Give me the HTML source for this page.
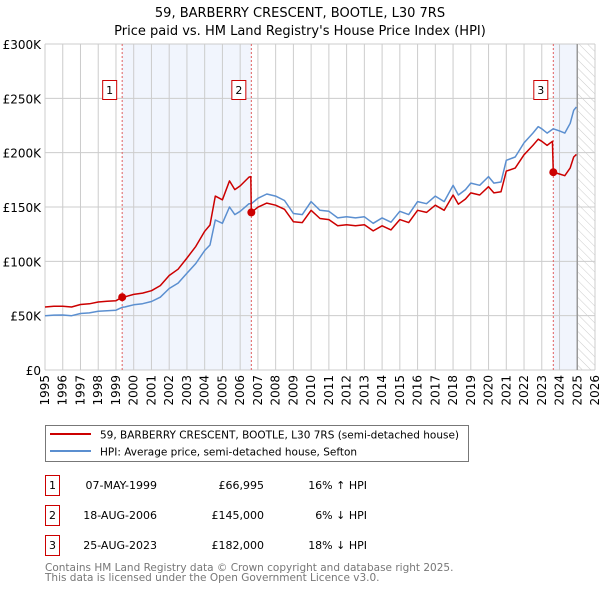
<!DOCTYPE html>
<html><head><meta charset="utf-8">
<style>
body{margin:0;background:#fff;width:600px;height:590px;overflow:hidden;font-family:"DejaVu Sans","Liberation Sans",sans-serif;}
svg text{font-family:"DejaVu Sans","Liberation Sans",sans-serif;}
</style></head>
<body>
<svg id="chart" width="600" height="590" viewBox="0 0 600 590" xmlns="http://www.w3.org/2000/svg">
<defs>
<pattern id="hatch" width="6" height="6" patternUnits="userSpaceOnUse" patternTransform="rotate(-45)">
<line x1="0" y1="0" x2="0" y2="6" stroke="#ccc" stroke-width="1"/>
</pattern>
</defs>
<text x="300" y="17" text-anchor="middle" font-size="13">59, BARBERRY CRESCENT, BOOTLE, L30 7RS</text>
<text x="300" y="35" text-anchor="middle" font-size="13">Price paid vs. HM Land Registry's House Price Index (HPI)</text>
<g id="plot"></g>
<rect x="45.5" y="425.5" width="423" height="36" fill="#fff" stroke="#777"/>
<line x1="50" y1="434" x2="91" y2="434" stroke="#cc0000" stroke-width="2"/>
<text x="100" y="438.5" font-size="10.5">59, BARBERRY CRESCENT, BOOTLE, L30 7RS (semi-detached house)</text>
<line x1="50" y1="451" x2="91" y2="451" stroke="#5b8fd0" stroke-width="2"/>
<text x="100" y="455.5" font-size="10.5">HPI: Average price, semi-detached house, Sefton</text>
<g id="table" font-size="11"></g>
<text x="45" y="571" font-size="10.5" fill="#777">Contains HM Land Registry data © Crown copyright and database right 2025.</text>
<text x="45" y="581" font-size="10.5" fill="#777">This data is licensed under the Open Government Licence v3.0.</text>
</svg>
<script>
const yearTicks=[1995,1996,1997,1998,1999,2000,2001,2002,2003,2004,2005,2006,2007,2008,2009,2010,2011,2012,2013,2014,2015,2016,2017,2018,2019,2020,2021,2022,2023,2024,2025,2026];
const valueTicks=[0,50,100,150,200,250,300];
const valueTickLabels=["£0","£50K","£100K","£150K","£200K","£250K","£300K"];
const hpiTimes=[1995,1995.5,1996,1996.5,1997,1997.5,1998,1998.5,1999,1999.35,1999.5,2000,2000.5,2001,2001.5,2002,2002.5,2003,2003.5,2004,2004.3,2004.6,2005,2005.4,2005.7,2006,2006.5,2006.63,2007,2007.5,2008,2008.5,2009,2009.5,2010,2010.5,2011,2011.5,2012,2012.5,2013,2013.5,2014,2014.5,2015,2015.5,2016,2016.5,2017,2017.5,2018,2018.3,2018.7,2019,2019.5,2020,2020.3,2020.7,2021,2021.5,2022,2022.5,2022.8,2023,2023.3,2023.65,2024,2024.3,2024.6,2024.8,2024.95];
const hpiValues=[50,50.5,50.6,50,52,52.5,54,54.5,55,57.7,58,60,61,63,67,75,80,89,98,110,115,138,135,150,143,146,153,153,158,162,160,156,144,143,155,147,146,140,141,140,141,135,140,136,146,143,155,153,160,155,170,161,166,172,170,178,172,173,193,196,209,218,224,222,218,222,220,218,227,239,242];
const priceTimes=[1995,1995.5,1996,1996.5,1997,1997.5,1998,1998.5,1999,1999.35,1999.5,2000,2000.5,2001,2001.5,2002,2002.5,2003,2003.5,2004,2004.3,2004.6,2005,2005.4,2005.7,2006,2006.5,2006.6,2006.63,2007,2007.5,2008,2008.5,2009,2009.5,2010,2010.5,2011,2011.5,2012,2012.5,2013,2013.5,2014,2014.5,2015,2015.5,2016,2016.5,2017,2017.5,2018,2018.3,2018.7,2019,2019.5,2020,2020.3,2020.7,2021,2021.5,2022,2022.5,2022.8,2023,2023.3,2023.6,2023.65,2024,2024.3,2024.6,2024.8,2024.95];
const priceValues=[58,58.6,58.7,58,60.3,60.9,62.6,63.2,63.8,67,67.3,69.6,70.8,73,77.7,87,92.8,103,113.7,127.6,133.4,160,156.6,174,166,169.4,177.5,178,145,149.8,153.6,151.7,147.9,136.5,135.6,147,139.4,138.4,132.7,133.7,132.7,133.7,128,132.7,128.9,138.4,135.6,147,145,151.7,147,161,152.6,157.4,163,161,168.7,163,164,183,185.8,198,206.7,212.4,210.5,206.7,210.5,182,180.4,178.8,186,196,198.4];
const saleTimes=[1999.35,2006.63,2023.65];
const saleValues=[66.995,145,182];
const saleLabels=["1","2","3"];
const saleDates=["07-MAY-1999","18-AUG-2006","25-AUG-2023"];
const salePrices=["£66,995","£145,000","£182,000"];
const saleDiffs=["16% ↑ HPI","6% ↓ HPI","18% ↓ HPI"];
const dataEnd=2025;

const NS="http://www.w3.org/2000/svg";
const X0=45,X1=595,Y0=370,Y1=44;
const xs=t=>X0+(t-1995)/(2026-1995)*(X1-X0);
const ys=v=>Y0-(v/300)*(Y0-Y1);
const plot=document.getElementById('plot');
function mk(tag,attrs,parent){const e=document.createElementNS(NS,tag);for(const k in attrs)e.setAttribute(k,attrs[k]);(parent||plot).appendChild(e);return e;}

mk('rect',{x:X0,y:Y1,width:X1-X0,height:Y0-Y1,fill:'#fff'});
for(let i=0;i<saleTimes.length;i++){
  const a=saleTimes[i], b=i+1<saleTimes.length?saleTimes[i+1]:dataEnd;
  if(i===1) continue;
  const r=mk('rect',{x:xs(a),y:Y1,width:xs(b)-xs(a),height:Y0-Y1,fill:'#eef3fc',opacity:0.8});
  
  
}
const hz=mk('rect',{x:xs(dataEnd),y:Y1,width:X1-xs(dataEnd),height:Y0-Y1,fill:'url(#hatch)'});


yearTicks.forEach(y=>{
  const l=mk('line',{x1:xs(y),x2:xs(y),y1:Y1,y2:Y0,stroke:'#ccc','stroke-width':1});
  
  
  const t=mk('text',{x:0,y:0,'font-size':12,'text-anchor':'end',transform:`translate(${xs(y)+4},${Y0+5}) rotate(-90)`});
  
  
  t.textContent=y;
});
valueTicks.forEach((v,i)=>{
  const l=mk('line',{x1:X0,x2:X1,y1:ys(v),y2:ys(v),stroke:'#ccc','stroke-width':1});
  
  
  const t=mk('text',{x:X0-4,y:ys(v)+5,'font-size':12,'text-anchor':'end'});
  
  
  t.textContent=valueTickLabels[i];
});
const ed=mk('line',{x1:xs(dataEnd),x2:xs(dataEnd),y1:Y1,y2:Y0,stroke:'#999','stroke-width':1.5});


saleTimes.forEach((t,i)=>{
  const l=mk('line',{x1:xs(t),x2:xs(t),y1:Y1,y2:Y0,stroke:'#e06060','stroke-width':1,'stroke-dasharray':'2,2'});
  
  
});
function path(ts,vs,color,name){
  const d=ts.map((t,i)=>(i?'L':'M')+xs(t).toFixed(1)+','+ys(vs[i]).toFixed(1)).join(' ');
  const p=mk('path',{d:d,fill:'none',stroke:color,'stroke-width':1.5,'stroke-linejoin':'round'});
  
  
}
path(hpiTimes,hpiValues,'#5b8fd0','hpi-line');
path(priceTimes,priceValues,'#cc0000','price-paid-line');
saleTimes.forEach((t,i)=>{
  const c=mk('circle',{cx:xs(t),cy:ys(saleValues[i]),r:4,fill:'#cc0000'});
  
  
  const bx=xs(t)-12-8, by=80;
  const r=mk('rect',{x:bx+0.5,y:by+0.5,width:14,height:19,fill:'#fff',stroke:'#cc0000'});
  
  
  const tx=mk('text',{x:bx+7.5,y:by+14,'font-size':11,'text-anchor':'middle'});
  
  
  tx.textContent=saleLabels[i];
});
const tb=document.getElementById('table');
saleLabels.forEach((s,i)=>{
  const y=475+i*30;
  const r=mk('rect',{x:45.5,y:y+0.5,width:14,height:20,fill:'#fff',stroke:'#cc0000'},tb);
  
  
  const cells=[[52.5,s,'middle'],[157,saleDates[i],'end'],[264,salePrices[i],'end'],[367,saleDiffs[i],'end']];
  cells.forEach((c,j)=>{
    const t=mk('text',{x:c[0],y:y+14,'text-anchor':c[2]},tb);
    
    
    t.textContent=c[1];
  });
});
</script>
</body></html>
